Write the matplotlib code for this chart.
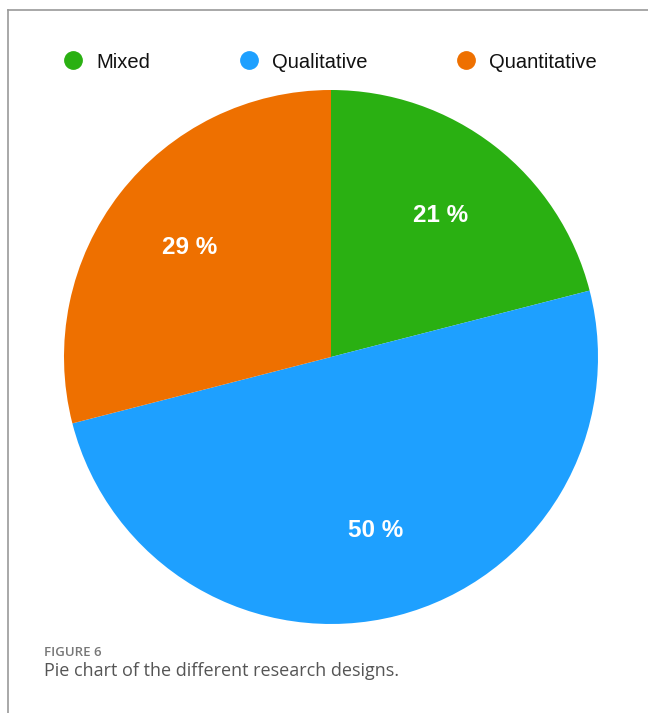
import matplotlib
matplotlib.use("Agg")
import matplotlib.pyplot as plt
from matplotlib.lines import Line2D

# research design shares (%)
designs = ["Mixed", "Qualitative", "Quantitative"]
shares = [21, 50, 29]
colors = ["#2AB012", "#1EA0FF", "#EE7000"]

W, H = 648, 713
fig = plt.figure(figsize=(W / 100, H / 100), dpi=100)

# thin frame around the figure panel (left and top edges)
fig.add_artist(Line2D([8 / W, 8 / W], [0, 1 - 10 / H], color="#9a9a9a", lw=1.2))
fig.add_artist(Line2D([8 / W, 1], [1 - 10 / H, 1 - 10 / H], color="#9a9a9a", lw=1.2))

# pie: centre (331, 357) px, radius 267 px
cx, cy, r = 331, 357, 267
ax = fig.add_axes([(cx - r) / W, (H - cy - r) / H, 2 * r / W, 2 * r / H])
wedges, _, autotexts = ax.pie(
    shares, colors=colors, startangle=90, counterclock=False,
    autopct=lambda p: f"{p:.0f} %", pctdistance=0.67,
    wedgeprops=dict(linewidth=0),
    textprops=dict(color="white", fontsize=17.5, fontweight="bold",
                   family="Liberation Sans"),
)
ax.set_xlim(-1, 1)
ax.set_ylim(-1, 1)
ax.set_aspect("equal")

# legend row with round markers
handles = [Line2D([], [], marker="o", linestyle="none", markersize=12.5,
                  markerfacecolor=c, markeredgecolor=c) for c in colors]
fig.legend(handles, designs, loc="center left", bbox_to_anchor=(45 / W, 1 - 62 / H),
           ncol=3, frameon=False, handlelength=1.0, handletextpad=0.65,
           columnspacing=4.4, prop=dict(family="Liberation Sans", size=14.5),
           labelcolor="#111111")

# caption
fig.text(44 / W, 1 - 652 / H, "FIGURE 6", family="Open Sans", fontsize=9.5,
         color="#777777", va="center", fontweight="semibold")
fig.text(44 / W, 1 - 671 / H, "Pie chart of the different research designs.",
         family="Open Sans", fontsize=13, color="#555555", va="center")

fig.savefig("out.png", dpi=100)
